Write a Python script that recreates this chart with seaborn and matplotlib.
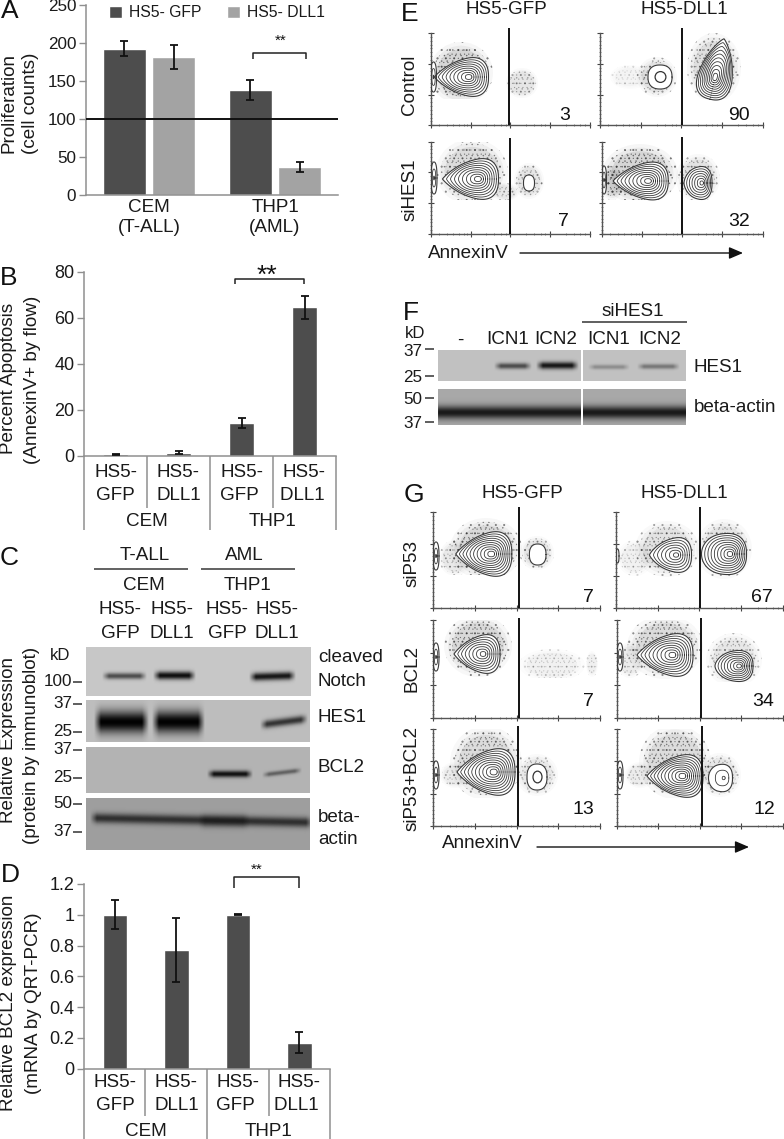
import numpy as np
import pandas as pd
import seaborn as sns
import matplotlib
matplotlib.use("Agg")
import matplotlib.pyplot as plt
from matplotlib.patches import Ellipse, Rectangle

W, H = 784, 1139
sns.set_theme(style="white")
plt.rcParams["font.family"] = ["Liberation Sans", "DejaVu Sans"]
plt.rcParams["hatch.linewidth"] = 0.3
DARK, LIGHT, GREY, INK = "#4d4d4d", "#a3a3a3", "#8f8f8f", "#1a1a1a"
FS = 13.6

# ---------- bar chart data ----------
a_cells = ["CEM\n(T-ALL)", "THP1\n(AML)"]
a_hue = ["HS5- GFP", "HS5- DLL1"]
a_gfp, a_dll = [193, 138], [182, 37]
a_gfp_err, a_dll_err = [10, 13], [16, 6.5]
b_labels = ["HS5-\nGFP", "HS5-\nDLL1", "HS5-\nGFP ", "HS5-\nDLL1 "]
b_values = [0.8, 1.4, 14.3, 64.5]
b_err = [0.2, 0.6, 2.0, 5.0]
d_values = [1.0, 0.77, 1.0, 0.17]
d_err = [0.095, 0.207, 0.002, 0.07]

fig = plt.figure(figsize=(W / 100, H / 100), dpi=100, facecolor="white")


def px_axes(l, t, r, b):
    return fig.add_axes([l / W, 1 - b / H, (r - l) / W, (b - t) / H])


def style_bar_ax(ax, ticksize=12.3):
    sns.despine(ax=ax)
    for s in ("left", "bottom"):
        ax.spines[s].set_color(GREY)
        ax.spines[s].set_linewidth(1.1)
    ax.set_xlabel("")
    ax.set_ylabel("")
    ax.tick_params(axis="y", left=True, length=5, width=1, color=GREY,
                   labelsize=ticksize, labelcolor=INK, pad=2)
    ax.tick_params(axis="x", bottom=False)
    ax.patch.set_alpha(0)


def add_err(ax, bars, errs, lw=1.3, cap=3.0):
    for p, e in zip(bars, errs):
        ax.errorbar(p.get_x() + p.get_width() / 2, p.get_height(), yerr=e,
                    color="#111111", lw=lw, capsize=cap, capthick=lw, zorder=5)


# Panel A
axA = px_axes(86, 5.3, 338, 195)
dfA = pd.DataFrame({"cell": a_cells * 2, "val": a_gfp + a_dll,
                    "cond": [a_hue[0]] * 2 + [a_hue[1]] * 2})
sns.barplot(data=dfA, x="cell", y="val", hue="cond", hue_order=a_hue, ax=axA,
            palette=[DARK, LIGHT], width=0.78, gap=0.11, saturation=1, errorbar=None)
axA.set_xlim(-0.5, 1.5)
axA.set_ylim(0, 250)
axA.set_yticks(range(0, 251, 50))
style_bar_ax(axA)
axA.tick_params(axis="x", labelsize=FS, labelcolor=INK, pad=-3)
barsA = [p for p in axA.patches if p.get_height() > 0]
add_err(axA, barsA, a_gfp_err + a_dll_err)
axA.axhline(100, color="#111111", lw=1.4, zorder=6)
axA.legend(loc="upper left", bbox_to_anchor=(0.09, 1.0), ncol=2, frameon=False,
           fontsize=11.3, handlelength=0.85, handleheight=0.85, handletextpad=0.45,
           columnspacing=1.6, borderaxespad=0, borderpad=0, labelcolor=INK)


def four_bars(rect, vals, errs, ymax, ticks, ticklabels, pad):
    ax = px_axes(*rect)
    df = pd.DataFrame({"label": b_labels, "val": vals})
    sns.barplot(data=df, x="label", y="val", ax=ax, color=DARK, width=0.4,
                saturation=1, errorbar=None)
    ax.set_xlim(-0.5, 3.5)
    ax.set_ylim(0, ymax)
    ax.set_yticks(ticks)
    ax.set_yticklabels(ticklabels)
    style_bar_ax(ax, 13)
    ax.tick_params(axis="x", labelsize=FS, labelcolor=INK, pad=pad)
    for lab in ax.get_xticklabels():
        lab.set_linespacing(1.45)
    add_err(ax, ax.patches, errs)
    return ax


axB = four_bars((84, 271.7, 336, 456), b_values, b_err, 80, range(0, 81, 20),
                [0, 20, 40, 60, 80], 0)
axD = four_bars((84.3, 884, 330, 1068.7), d_values, d_err, 1.2,
                [0, .2, .4, .6, .8, 1, 1.2], ["0", "0.2", "0.4", "0.6", "0.8", "1", "1.2"], -2)

# ---------- overlay in pixel coordinates ----------
ov = fig.add_axes([0, 0, 1, 1], zorder=10)
ov.patch.set_alpha(0)
ov.axis("off")


def T(x, y, s, size=FS, rot=0, ha="center", color=INK):
    ov.text(x, y, s, fontsize=size, rotation=rot, ha=ha, va="center", color=color)


def L(xs, ys, color=GREY, lw=1.1):
    ov.plot(xs, ys, color=color, lw=lw, solid_capstyle="butt", clip_on=False)


# panel letters
for x, y, s in [(10, 11, "A"), (9, 278, "B"), (9, 558, "C"), (10, 875, "D"),
                (410, 14, "E"), (411, 313, "F"), (414, 495, "G")]:
    T(x, y, s, size=19, color="#111111")

# y labels
for x, y, s in [(9, 103, "Proliferation"), (31, 103, "(cell counts)"),
                (9, 378, "Percent Apoptosis"), (33, 380, "(AnnexinV+ by flow)"),
                (9, 740, "Relative Expression"), (32, 745, "(protein by immunoblot)"),
                (9, 1003, "Relative BCL2 expression"), (34, 1003, "(mRNA by QRT-PCR)")]:
    T(x, y, s, rot=90)

# significance brackets
for x0, x1, yt, yb, tx, ty, size in [(253, 306, 53, 59, 281, 41, 11),
                                     (235, 304, 279, 284, 267, 276, 19),
                                     (234, 299, 877, 888, 257, 870, 11)]:
    L([x0, x0, x1, x1], [yb, yt, yt, yb], color="#222222", lw=1.1)
    T(tx, ty, "**", size=size, color="#111111")

# multi-level category separators
for xs, y0, y1, y2, names in [((84, 147, 210, 273, 336), 456, 508, 530, [(147, 522, "CEM"), (273, 522, "THP1")]),
                              ((84.3, 145.5, 207.5, 269, 330), 1068.7, 1116, 1139, [(146, 1132, "CEM"), (269, 1132, "THP1")])]:
    for i, x in enumerate(xs):
        L([x, x], [y0, y2 if i in (0, 2, 4) else y1])
    for x, y, s in names:
        T(x, y, s)


# ---------- immunoblots ----------
def blot(x0, x1, y0, y1, bg, bands):
    xs = np.arange(x0, x1) + .5
    ys = np.arange(y0, y1) + .5
    X, Y = np.meshgrid(xs, ys)
    img = np.full(X.shape, bg, float)
    for xa, xb, yc, th, st, slope in bands:
        xprof = np.clip((X - xa) / 7, 0, 1) * np.clip((xb - X) / 7, 0, 1)
        yprof = np.exp(-(np.abs(Y - (yc + slope * (X - xa))) / th) ** 2)
        img *= 1 - st * xprof * yprof
    ov.imshow(img, extent=(x0, x1, y1, y0), cmap="gray", vmin=0, vmax=1,
              aspect="auto", interpolation="bilinear", zorder=1)


c_blots = [
    (86, 311, 647, 696, .78, [(102, 147, 676, 3.2, .6, 0), (153, 196, 675.5, 4, .92, 0), (249, 296, 677, 4, .88, -.03)]),
    (86, 310, 700, 742, .74, [(94, 149, 722, 11, .99, 0), (152, 205, 722, 11, .99, 0), (260, 308, 725, 4, .72, -.13)]),
    (86, 310, 747, 793, .70, [(207, 253, 774, 3.4, .9, 0), (262, 302, 775, 2.4, .45, -.12)]),
    (86, 310, 798, 850, .62, [(90, 313, 818, 5, .7, .02), (198, 250, 821, 6, .35, 0)]),
]
for b in c_blots:
    blot(*b)
f_blots = [
    (438, 581, 350, 381, .76, [(494, 532, 366, 3, .6, 0), (536, 579, 365.5, 3.6, .88, 0)]),
    (583, 686, 350, 381, .76, [(588, 630, 367, 2.4, .27, 0), (637, 680, 366.5, 2.6, .38, 0)]),
    (438, 581, 389, 425, .66, [(432, 590, 412.5, 6.5, .85, 0)]),
    (583, 686, 389, 425, .66, [(575, 695, 412.5, 6.5, .85, 0)]),
]
for b in f_blots:
    blot(*b)
ov.set_xlim(0, W)
ov.set_ylim(H, 0)

# panel C text
T(145, 555, "T-ALL")
T(244, 555, "AML")
L([94, 188], [569, 569], color="#555555", lw=1.3)
L([201, 295], [569, 569], color="#555555", lw=1.3)
T(144, 585, "CEM")
T(248, 585, "THP1")
for x, top, bottom in [(120, "HS5-", "GFP"), (172, "HS5-", "DLL1"), (227, "HS5-", "GFP"), (277, "HS5-", "DLL1")]:
    T(x, 610, top)
    T(x, 633, bottom)
T(60, 656, "kD", size=12)
for y, s in [(682, "100"), (704, "37"), (732, "25"), (750, "37"), (778, "25"), (804, "50"), (832, "37")]:
    T(72, y, s, size=12.3, ha="right")
    L([73, 82], [y, y], color="#333333")
for y, s in [(658, "cleaved"), (682, "Notch"), (718, "HES1"), (767, "BCL2"), (817, "beta-"), (840, "actin")]:
    T(318, y, s, ha="left")

# panel F text
T(633, 311, "siHES1")
L([582, 687], [322, 322], color="#444444", lw=1.2)
T(415, 334, "kD", size=12)
for x, s in [(460, "-"), (508, "ICN1"), (556, "ICN2"), (609, "ICN1"), (660, "ICN2")]:
    T(x, 340, s)
for y, s in [(349, "37"), (376, "25"), (398, "50"), (422, "37")]:
    T(413, y + 2, s, size=12.3)
    L([425, 434], [y, y], color="#333333")
T(694, 368, "HES1", ha="left")
T(694, 408, "beta-actin", ha="left")

# ---------- flow cytometry ----------
# population: cx, cy, half-width, half-height, taper, contour levels, rotation
E_pops = [
    [(461.5, 77, 27, 20, .5, 9, 0), (433.5, 77, 3, 15, 0, 3, 0)],
    [(660, 77, 12, 12, 0, 2, 0), (717, 69, 31, 18, .45, 10, 103)],
    [(470.5, 179, 28, 21, .5, 9, 0), (529, 183, 5.5, 8, 0, 1, 0), (434, 178, 3, 16, 0, 3, 0)],
    [(640.7, 181, 27.5, 19.5, .5, 9, 0), (698, 183, 14, 17, .2, 7, 0), (604, 180, 2.5, 14, 0, 3, 0)],
]
# halo of sparse events: cx, cy, half-width, half-height, fill strength
E_halo = [
    [(461, 73, 32, 31, .24), (522, 83, 16, 15, .14)],
    [(657, 77, 20, 20, .16), (714, 68, 27, 35, .18), (630, 77, 20, 12, .05)],
    [(472, 172, 36, 33, .2), (529, 181, 15, 18, .14), (505, 192, 14, 9, .12)],
    [(640, 174, 38, 30, .24), (698, 178, 22, 24, .16), (612, 183, 12, 17, .2)],
]
E_rects = [(430.7, 33, 590, 125.3), (600, 33, 762.7, 125.3), (430.7, 141.7, 590, 234), (601.7, 141.7, 762.7, 234)]
E_gates = [(509, 28), (682.3, 28), (510, 138), (681.7, 137)]
E_floor = [99, 99, 200, 200]
E_nums = [(565, 115, "3"), (739, 115, "90"), (563, 222, "7"), (739, 222, "32")]

G_pops = [
    [(483.8, 554, 28, 23, .5, 10, 0), (537.7, 554.5, 8.3, 10.5, 0, 1, 0), (436, 556, 3, 14, 0, 3, 0)],
    [(670.5, 555, 21, 18, .4, 7, 0), (724, 554, 22.5, 21, .1, 9, 0), (617.5, 556, 1.5, 7, 0, 1, 0)],
    [(477, 654, 23, 20, .5, 8, 0), (436, 657, 3, 14, 0, 3, 0)],
    [(665, 655, 28, 22, .5, 9, 0), (734, 666, 19, 16, .2, 8, 0), (620, 657, 3, 14, 0, 3, 0)],
    [(486, 772, 29, 24, .5, 10, 0), (537, 777, 10, 13, 0, 2, 0), (436, 775, 3, 14, 0, 3, 0)],
    [(675, 776, 28, 22, .5, 10, 0), (720.5, 778, 12, 14, .1, 3, 0), (620, 775, 3, 14, 0, 3, 0)],
]
G_halo = [
    [(486, 549, 36, 31, .22), (455, 558, 16, 18, .12), (537, 553, 17, 17, .14)],
    [(667, 549, 32, 28, .16), (724, 549, 28, 30, .16), (635, 558, 18, 18, .07)],
    [(478, 646, 34, 31, .22), (552, 665, 33, 16, .07), (592, 664, 6, 13, .08)],
    [(665, 647, 38, 32, .2), (734, 660, 28, 27, .13), (630, 660, 14, 18, .1)],
    [(486, 763, 36, 37, .2), (537, 775, 21, 21, .12), (455, 775, 15, 13, .1)],
    [(675, 762, 36, 37, .2), (720, 775, 21, 22, .13), (640, 775, 15, 13, .1)],
]
G_rects = [(433, 511.7, 600, 608), (616, 511.7, 782.7, 608), (433, 620, 600, 717.7),
           (616.5, 620, 782.7, 717.7), (433, 729, 600, 826), (616.5, 729, 782.7, 826)]
G_gates = [(518.7, 507), (700, 507), (518.7, 618), (701, 618), (518, 726), (702, 726)]
G_floor = [575, 579, 678, 682, 798, 798]
G_nums = [(588, 597, "7"), (762, 597, "67"), (588, 702, "7"), (763, 702, "34"), (583, 809, "13"), (764, 809, "12")]


def contour(ax, cx, cy, wx, wy, taper, n, rot):
    t = np.linspace(0, 2 * np.pi, 120)
    levels = np.linspace(1, .12, n) if n > 1 else [1.0]
    a = np.deg2rad(rot)
    for i, k in enumerate(levels):
        su = np.sign(np.cos(t)) * np.abs(np.cos(t)) ** .85
        sv = np.sign(np.sin(t)) * np.abs(np.sin(t)) ** .8
        v = sv * ((1 + su) / 1.35) ** (taper * k * k) if taper else sv
        v = np.clip(v, -1.05, 1.05)
        x = k * wx * su + (1 - k) * .3 * wx * (1 if taper else 0)
        y = k * wy * v
        px = cx + x * np.cos(a) - y * np.sin(a)
        py = cy + x * np.sin(a) + y * np.cos(a)
        if i == 0:
            ax.fill(px, py, color="white", zorder=2, lw=0)
        ax.plot(px, py, color="#3a3a3a", lw=.8 if i == 0 else .6, zorder=3)
    if n == 2:
        ax.add_patch(Ellipse((cx + .5, cy), .9 * wx, .9 * wy, fc="white", ec="#333333", lw=.9, zorder=3))


def flow(rect, pops, halos, gate, floor, num):
    l, t, r, b = rect
    ax = px_axes(l, t, r, b)
    ax.set_xlim(l, r)
    ax.set_ylim(b, t)
    ax.patch.set_alpha(0)
    sns.despine(ax=ax)
    for s in ("left", "bottom"):
        ax.spines[s].set_color("#555555")
        ax.spines[s].set_linewidth(1.0)
    w, h = r - l, b - t
    ax.set_xticks([l + w * f for f in (0, .25, .5, .75, 1)], labels=[])
    ax.set_xticks([l + w * f for f in (.05, .1, .14, .18, .21, .23, .35, .4, .44, .47, .6, .65, .69, .72, .85, .9, .94, .97)], minor=True)
    ax.set_yticks([b - h * f for f in (0, 1 / 3, 2 / 3, 1)], labels=[])
    ax.set_yticks([b - h * f for f in np.arange(1, 24) / 24], minor=True)
    ax.tick_params(which="major", bottom=True, left=True, length=4, width=.8, color="#444444", direction="inout")
    ax.tick_params(which="minor", bottom=True, left=True, length=2, width=.5, color="#555555", direction="inout")
    clip = Rectangle((l, t), w, floor - t, transform=ax.transData)
    # nested stipple rings: the sparse events thin out towards the edge
    for scale, hatch, frac in [(1.0, "..", .2), (.88, "...", .3), (.76, "....", .5)]:
        for cx, cy, wx, wy, st in halos:
            e1 = Ellipse((cx, cy), 2 * wx * scale, 2 * wy * scale, fc=(.3, .3, .3, st * frac),
                         ec="none", lw=0, zorder=1)
            e2 = Ellipse((cx, cy), 2 * wx * scale, 2 * wy * scale, fill=False, hatch=hatch,
                         ec=(.2, .2, .2, min(1, st * 2.5)), lw=0, zorder=1)
            for e in (e1, e2):
                ax.add_patch(e)
                e.set_clip_path(clip)
    for p in pops:
        contour(ax, *p)
    gx, gt = gate
    L([gx, gx], [gt, b], color="#111111", lw=1.4)
    T(num[0], num[1], num[2], size=FS + .4, color="#111111")


for rect, pops, halo, gate, fl, num in zip(E_rects, E_pops, E_halo, E_gates, E_floor, E_nums):
    flow(rect, pops, halo, gate, fl, num)
for rect, pops, halo, gate, fl, num in zip(G_rects, G_pops, G_halo, G_gates, G_floor, G_nums):
    flow(rect, pops, halo, gate, fl, num)

# flow text
T(506.7, 10, "HS5-GFP")
T(684, 10, "HS5-DLL1")
T(410, 85, "Control", rot=90)
T(410, 190, "siHES1", rot=90)
T(468, 253, "AnnexinV")
T(522, 493, "HS5-GFP")
T(684, 493, "HS5-DLL1")
T(412, 563, "siP53", rot=90)
T(412, 668, "BCL2", rot=90)
T(412, 778, "siP53+BCL2", rot=90)
T(482, 843, "AnnexinV")
for x0, x1, y in [(520, 743, 253), (537, 749, 847)]:
    ov.annotate("", xy=(x1, y), xytext=(x0, y),
                arrowprops=dict(arrowstyle="-|>,head_length=.7,head_width=.3", color="#111111", lw=1.0,
                                shrinkA=0, shrinkB=0))

ov.set_xlim(0, W)
ov.set_ylim(H, 0)
fig.savefig("out.png", dpi=100, facecolor="white")
